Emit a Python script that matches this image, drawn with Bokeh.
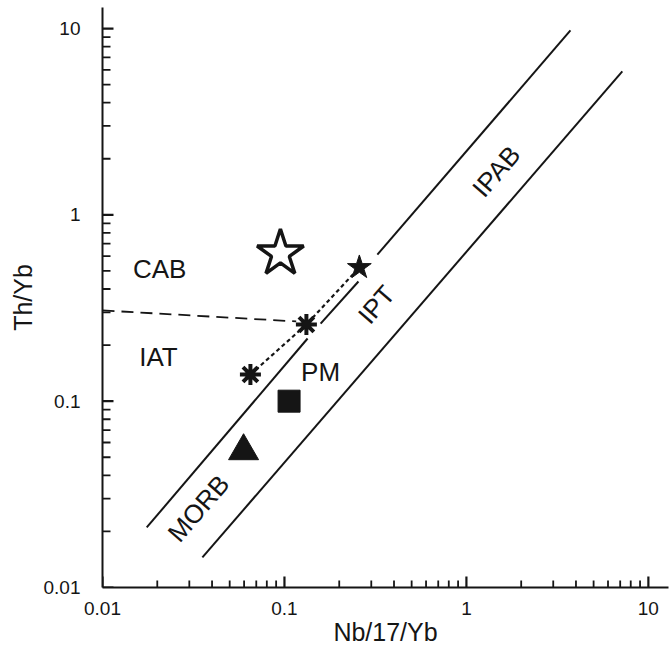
from bokeh.plotting import figure
from bokeh.models import FixedTicker, PrintfTickFormatter
from bokeh.core.properties import value
from bokeh.embed import file_html
from bokeh.resources import INLINE

# ---- data ----
# upper array boundary (drawn broken into three pieces)
upper_x0 = [0.0175, 0.158, 0.324]
upper_y0 = [0.021, 0.261, 0.612]
upper_x1 = [0.134, 0.255, 3.73]
upper_y1 = [0.217, 0.439, 9.77]
# lower array boundary
lower_x = [0.0354, 7.19]
lower_y = [0.0145, 5.89]
# CAB / IAT divider (dashed)
divider_x = [0.01, 0.116]
divider_y = [0.307, 0.268]
# trend linking the samples (dotted)
trend_x = [0.065, 0.132, 0.258]
trend_y = [0.139, 0.258, 0.522]
# sample symbols
asterisk_x = [0.065, 0.132]
asterisk_y = [0.139, 0.258]
filled_star_x = [0.258]
filled_star_y = [0.522]
open_star_x = [0.095]
open_star_y = [0.62]
square_x = [0.106]
square_y = [0.1]
triangle_x = [0.0596]
triangle_y = [0.054]
# field labels
label_text = ["CAB", "IAT", "PM"]
label_x = [0.0206, 0.0203, 0.158]
label_y = [0.515, 0.172, 0.1426]
rot_text = ["MORB", "IPT", "IPAB"]
rot_x = [0.0337, 0.320, 1.46]
rot_y = [0.0266, 0.330, 1.71]
# axis ticks
major_ticks = [0.01, 0.1, 1, 10]
decades = [0.01, 0.1, 1, 10]
mantissas = [2, 3, 4, 5, 6, 7, 8, 9]

INK = "#151515"
FONT = "Liberation Sans"
X0, X1 = 0.01, 12.9
Y0, Y1 = 0.01, 12.97
PX_PER_DEC_X = 182.0   # frame pixels per decade (x)
PX_PER_DEC_Y = 186.3   # frame pixels per decade (y)

p = figure(width=671, height=651, x_axis_type="log", y_axis_type="log",
           x_range=(X0, X1), y_range=(Y0, Y1),
           output_backend="svg", toolbar_location=None,
           min_border_left=102, min_border_right=3, min_border_top=7,
           min_border_bottom=64)
p.outline_line_color = None
p.xgrid.visible = False
p.ygrid.visible = False
p.background_fill_color = "white"
p.border_fill_color = "white"

for ax in (p.xaxis, p.yaxis):
    ax.ticker = FixedTicker(ticks=major_ticks)
    ax.formatter = PrintfTickFormatter(format="%g")
    ax.axis_line_width = 2
    ax.axis_line_color = INK
    ax.major_tick_line_color = None
    ax.minor_tick_line_color = None
    ax.major_tick_in = 0
    ax.major_tick_out = 0
    ax.minor_tick_in = 0
    ax.minor_tick_out = 0
    ax.major_label_text_font = FONT
    ax.major_label_text_font_size = "19px"
    ax.major_label_text_color = INK
    ax.axis_label_text_font = FONT
    ax.axis_label_text_font_size = "25px"
    ax.axis_label_text_font_style = "normal"
    ax.axis_label_text_color = INK

p.xaxis.major_label_standoff = 14
p.xaxis.axis_label_standoff = 0
p.yaxis.major_label_standoff = 22
p.yaxis.axis_label_standoff = 4
p.xaxis.axis_label = "Nb/17/Yb"
p.yaxis.axis_label = "Th/Yb"

# inward tick marks (length given in pixels, converted to a log factor)
minor_ticks = [d * m for d in decades for m in mantissas if d * m < X1]


def fx(px):
    return 10 ** (px / PX_PER_DEC_X)


def fy(px):
    return 10 ** (px / PX_PER_DEC_Y)


p.segment(x0=major_ticks, y0=[Y0] * len(major_ticks),
          x1=major_ticks, y1=[Y0 * fy(11)] * len(major_ticks),
          line_color=INK, line_width=2.2)
p.segment(x0=minor_ticks, y0=[Y0] * len(minor_ticks),
          x1=minor_ticks, y1=[Y0 * fy(7)] * len(minor_ticks),
          line_color=INK, line_width=1.8)
p.segment(x0=[X0] * len(major_ticks), y0=major_ticks,
          x1=[X0 * fx(11)] * len(major_ticks), y1=major_ticks,
          line_color=INK, line_width=2.2)
p.segment(x0=[X0] * len(minor_ticks), y0=minor_ticks,
          x1=[X0 * fx(8)] * len(minor_ticks), y1=minor_ticks,
          line_color=INK, line_width=1.8)

# boundaries
p.segment(x0=upper_x0, y0=upper_y0, x1=upper_x1, y1=upper_y1,
          line_color=INK, line_width=2)
p.line(lower_x, lower_y, line_color=INK, line_width=2)
p.line(divider_x, divider_y, line_color=INK, line_width=1.8, line_dash="12 7")
p.line(trend_x, trend_y, line_color=INK, line_width=2.2, line_dash="4 3")

# samples
p.scatter(open_star_x, open_star_y, marker="star", size=49,
          fill_color="white", line_color=INK, line_width=3.5)
p.scatter(filled_star_x, filled_star_y, marker="star", size=25,
          fill_color=INK, line_color=INK, line_width=1)
p.scatter(asterisk_x, asterisk_y, marker="asterisk", size=21,
          line_color=INK, line_width=4)
p.scatter(asterisk_x, asterisk_y, marker="circle", size=9,
          fill_color=INK, line_color=INK)
p.scatter(square_x, square_y, marker="square", size=22,
          fill_color=INK, line_color=INK)
p.scatter(triangle_x, triangle_y, marker="triangle", size=30,
          fill_color=INK, line_color=INK)

# field labels
p.text(x=label_x, y=label_y, text=label_text, text_font=value(FONT),
       text_font_size="26px", text_align="center", text_baseline="middle",
       text_color=INK)
p.text(x=rot_x, y=rot_y, text=rot_text, text_font=value(FONT),
       text_font_size="26px", text_align="center", text_baseline="middle",
       text_color=INK, angle=49, angle_units="deg")

with open("out.html", "w") as f:
    f.write(file_html(p, INLINE))
